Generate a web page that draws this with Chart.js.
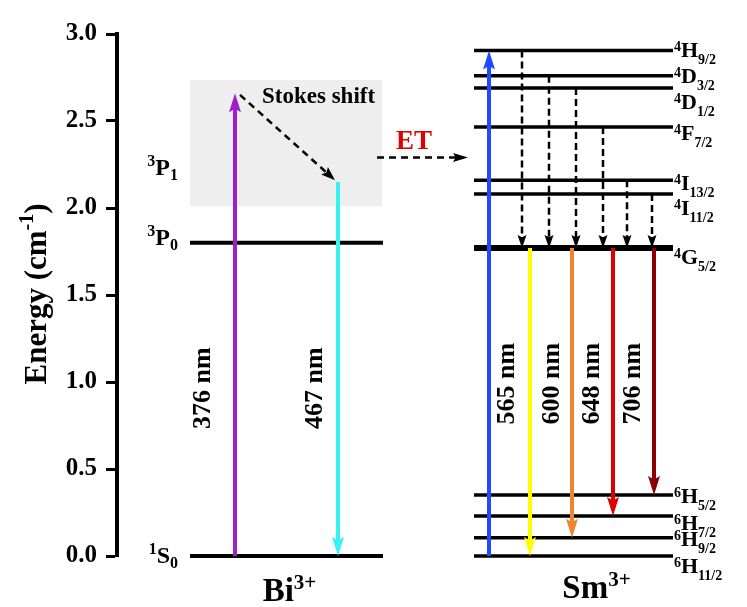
<!DOCTYPE html>
<html><head><meta charset="utf-8">
<script src="https://cdn.jsdelivr.net/npm/chart.js@4.4.1/dist/chart.umd.min.js"></script>
<style>html,body{margin:0;padding:0;background:#ffffff;}canvas{display:block;}</style>
</head><body>
<canvas id="c" width="747" height="607"></canvas>
<script>
// ---------------- data ----------------
const yTickValues = [0, 0.5, 1.0, 1.5, 2.0, 2.5, 3.0];
const yTickLabels = ['0.0', '0.5', '1.0', '1.5', '2.0', '2.5', '3.0'];

const biLevels = ['1S0', '3P0'];
const biEnergies = [0.0, 1.80];
const biBandName = '3P1';
const biBand = [2.01, 2.735];          // shaded 3P1 region (bottom, top)
const biExcitation = [0.0, 2.66];      // 376 nm absorption
const biStokes = [2.65, 2.16];         // relaxation (Stokes shift)
const biEmission = [2.15, 0.0];        // 467 nm emission
const biWavelengths = ['376 nm', '467 nm'];

const smLevels = ['6H11/2', '6H9/2', '6H7/2', '6H5/2', '4G5/2', '4I11/2', '4I13/2', '4F7/2', '4D1/2', '4D3/2', '4H9/2'];
const smEnergies = [0.0, 0.105, 0.23, 0.35, 1.77, 2.08, 2.16, 2.465, 2.69, 2.76, 2.905];
const smExciteTo = '4H9/2';
const smRelaxFrom = ['4H9/2', '4D3/2', '4D1/2', '4F7/2', '4I13/2', '4I11/2'];
const smEmitFrom = '4G5/2';
const smEmitTo = ['6H11/2', '6H9/2', '6H7/2', '6H5/2'];
const smWavelengths = ['565 nm', '600 nm', '648 nm', '706 nm'];
const etEnergy = 2.29;
const ionNames = ['Bi3+', 'Sm3+'];
const axisTitle = ['Energy (cm', '-1', ')'];

// ---------------- layout / style (x in plot units, 1 unit = 1 px) ----------------
const L = {
  biSpan: [73, 266], smSpan: [357, 556], band: [73, 265],
  biExciteX: 118, biEmitX: 221, stokesX: [123, 218],
  smExciteX: 372, smRelaxX: [405, 432, 459, 486, 510, 535], smEmitX: [413, 455, 496, 537],
  etX: [260, 351]
};
const biColors = ['#a020c8', '#38f2f2'];
const smExciteColor = '#1f4bff';
const emitColors = ['#ffff00', '#f0842e', '#dc0000', '#8b0000'];
const smLabelDy = [17, 8, 14, 8, 16, 21, 10, 13, 21, 7, 6];
const biLabelDy = [7, 2];
const wlDx = [-32, -23, 18, 22, 20, 20];

// ---------------- datasets ----------------
const Esm = n => smEnergies[smLevels.indexOf(n)];
const seg = (x0, y0, x1, y1) => [{x: x0, y: y0}, {x: x1, y: y1}];
const datasets = [];
datasets.push({data: seg(L.band[0], biBand[1], L.band[1], biBand[1]), borderWidth: 0, borderColor: 'rgba(0,0,0,0)', fill: '+1', backgroundColor: '#eeeeee', order: 30});
datasets.push({data: seg(L.band[0], biBand[0], L.band[1], biBand[0]), borderWidth: 0, borderColor: 'rgba(0,0,0,0)', fill: false, order: 30});
biEnergies.forEach(e => datasets.push({data: seg(L.biSpan[0], e, L.biSpan[1], e), borderColor: '#000', borderWidth: 4, order: 20}));
smEnergies.forEach((e, i) => datasets.push({data: seg(L.smSpan[0], e, L.smSpan[1], e), borderColor: '#000', borderWidth: smLevels[i] === smEmitFrom ? 6 : 3.5, order: 20}));
function arrow(pts, color, width, dash, head) {
  return {data: pts, borderColor: color, borderWidth: width, borderDash: dash || [], head: head, order: 1};
}
const solidHead = {len: 19, w: 12};
const dashHead = {len: 13, w: 9};
datasets.push(arrow(seg(L.biExciteX, biExcitation[0], L.biExciteX, biExcitation[1]), biColors[0], 4, null, solidHead));
datasets.push(arrow(seg(L.biEmitX, biEmission[0], L.biEmitX, biEmission[1]), biColors[1], 4, null, solidHead));
datasets.push(arrow(seg(L.stokesX[0], biStokes[0], L.stokesX[1], biStokes[1]), '#000', 2.5, [7, 5], {len: 14, w: 10}));
datasets.push(arrow(seg(L.etX[0], etEnergy, L.etX[1], etEnergy), '#000', 2.5, [7, 5], {len: 15, w: 9}));
datasets.push(arrow(seg(L.smExciteX, 0, L.smExciteX, Esm(smExciteTo)), smExciteColor, 4, null, solidHead));
smRelaxFrom.forEach((n, i) => datasets.push(arrow(seg(L.smRelaxX[i], Esm(n), L.smRelaxX[i], Esm(smEmitFrom)), '#000', 2.5, [7, 4], dashHead)));
smEmitTo.forEach((n, i) => datasets.push(arrow(seg(L.smEmitX[i], Esm(smEmitFrom), L.smEmitX[i], Esm(n)), emitColors[i], 4, null, solidHead)));
datasets.forEach(d => { d.clip = false; d.pointRadius = 0; });

// ---------------- plugins ----------------
const arrowPlugin = {
  id: 'arrowheads',
  beforeDatasetDraw(chart, args) {
    const ds = chart.data.datasets[args.index];
    if (!ds.head) return;
    const pts = args.meta.data, a = pts[pts.length - 2], b = pts[pts.length - 1];
    const dx = b.x - a.x, dy = b.y - a.y, d = Math.hypot(dx, dy), ux = dx / d, uy = dy / d, nx = -uy, ny = ux;
    const h = ds.borderWidth, back = ds.head.len * 0.7;
    const ctx = chart.ctx;
    ctx.save();
    ctx.beginPath();
    ctx.rect(0, 0, chart.width, chart.height);
    ctx.moveTo(b.x + nx * h + ux * 3, b.y + ny * h + uy * 3);
    ctx.lineTo(b.x - nx * h + ux * 3, b.y - ny * h + uy * 3);
    ctx.lineTo(b.x - nx * h - ux * back, b.y - ny * h - uy * back);
    ctx.lineTo(b.x + nx * h - ux * back, b.y + ny * h - uy * back);
    ctx.closePath();
    ctx.clip('evenodd');
  },
  afterDatasetDraw(chart, args) {
    const ds = chart.data.datasets[args.index];
    if (!ds.head) return;
    const ctx = chart.ctx;
    ctx.restore();
    const pts = args.meta.data, a = pts[pts.length - 2], b = pts[pts.length - 1];
    const dx = b.x - a.x, dy = b.y - a.y, d = Math.hypot(dx, dy), ux = dx / d, uy = dy / d, nx = -uy, ny = ux;
    const len = ds.head.len, w = ds.head.w / 2;
    const cx = b.x - ux * len, cy = b.y - uy * len;
    ctx.save();
    ctx.fillStyle = ds.borderColor;
    ctx.beginPath();
    ctx.moveTo(b.x, b.y);
    ctx.lineTo(cx + nx * w, cy + ny * w);
    ctx.lineTo(b.x - ux * len * 0.82, b.y - uy * len * 0.82);
    ctx.lineTo(cx - nx * w, cy - ny * w);
    ctx.closePath();
    ctx.fill();
    ctx.restore();
  }
};

const FONT = s => `bold ${s}px "Liberation Serif", "Times New Roman", serif`;
function drawRich(ctx, parts, x, y, align) {
  let total = 0;
  parts.forEach(p => { ctx.font = FONT(p.s); p.w = ctx.measureText(p.t).width; total += p.w; });
  let cx = align === 'right' ? x - total : align === 'center' ? x - total / 2 : x;
  ctx.textAlign = 'left';
  ctx.textBaseline = 'alphabetic';
  parts.forEach(p => { ctx.font = FONT(p.s); ctx.fillText(p.t, cx, y + (p.dy || 0)); cx += p.w; });
}
function termParts(name, big, small, rise, drop) {
  const m = name.match(/^(\d)([A-Za-z])(.*)$/);
  return [{t: m[1], s: small, dy: -rise}, {t: m[2], s: big}, {t: m[3], s: small, dy: drop}];
}
function ionParts(name, big, small, rise) {
  const m = name.match(/^([A-Za-z]+)(.*)$/);
  return [{t: m[1], s: big}, {t: m[2], s: small, dy: -rise}];
}

const textPlugin = {
  id: 'texts',
  afterDraw(chart) {
    const ctx = chart.ctx, xs = chart.scales.x, ys = chart.scales.y;
    const X = v => xs.getPixelForValue(v), Y = v => ys.getPixelForValue(v);
    ctx.save();
    ctx.fillStyle = '#000';
    // axis title (rotated)
    ctx.save();
    ctx.translate(36, (ys.top + ys.bottom) / 2 - 1);
    ctx.rotate(-Math.PI / 2);
    drawRich(ctx, [{t: axisTitle[0], s: 31}, {t: axisTitle[1], s: 20, dy: -13}, {t: axisTitle[2], s: 31}], 0, 10, 'center');
    ctx.restore();
    // Bi levels labels
    biLevels.forEach((n, i) => drawRich(ctx, termParts(n, 24, 16, 9, 5), X(L.biSpan[0]) - 12, Y(biEnergies[i]) + biLabelDy[i], 'right'));
    drawRich(ctx, termParts(biBandName, 24, 16, 9, 5), X(L.biSpan[0]) - 12, Y(biBand[0]) - 31, 'right');
    // Sm level labels
    smLevels.forEach((n, i) => drawRich(ctx, termParts(n, 22, 14, 6, 7), X(L.smSpan[1]) + 1, Y(smEnergies[i]) + smLabelDy[i], 'left'));
    // Stokes shift + ET
    drawRich(ctx, [{t: 'Stokes shift', s: 23}], X(L.biExciteX) + 27, Y(biBand[1]) + 23, 'left');
    ctx.fillStyle = '#e00000';
    drawRich(ctx, [{t: 'ET', s: 27}], X(L.etX[0]) + 19, Y(etEnergy) - 9, 'left');
    ctx.fillStyle = '#000';
    // wavelength labels (rotated)
    const wlX = [L.biExciteX, L.biEmitX, L.smExciteX, L.smEmitX[0], L.smEmitX[1], L.smEmitX[2]];
    const wlTexts = biWavelengths.concat(smWavelengths);
    wlTexts.forEach((t, i) => {
      ctx.save();
      ctx.translate(X(wlX[i]) + wlDx[i], Y(i < 2 ? 0.965 : 0.99));
      ctx.rotate(-Math.PI / 2);
      ctx.font = FONT(26);
      ctx.textAlign = 'center';
      ctx.textBaseline = 'middle';
      ctx.fillText(t, 0, 0);
      ctx.restore();
    });
    // ion names
    drawRich(ctx, ionParts(ionNames[0], 33, 21, 12), (X(L.biSpan[0]) + X(L.biSpan[1])) / 2 + 3, Y(0) + 45, 'center');
    drawRich(ctx, ionParts(ionNames[1], 33, 21, 12), (X(L.smSpan[0]) + X(L.smSpan[1])) / 2 + 23, Y(0) + 42, 'center');
    ctx.restore();
  }
};

new Chart(document.getElementById('c'), {
  type: 'line',
  data: {datasets},
  options: {
    responsive: false, animation: false, devicePixelRatio: 1, events: [],
    layout: {padding: {top: 34, bottom: 51, left: 0, right: 0}},
    plugins: {legend: {display: false}, tooltip: {enabled: false}},
    elements: {point: {radius: 0, hoverRadius: 0}, line: {tension: 0, borderCapStyle: 'butt', fill: false}},
    scales: {
      x: {type: 'linear', display: false, min: 0, max: 630},
      y: {
        type: 'linear', min: 0, max: 3,
        afterFit(s) { s.width = 117; },
        afterBuildTicks(s) { s.ticks = yTickValues.map(v => ({value: v})); },
        ticks: {callback: v => yTickLabels[yTickValues.indexOf(v)], font: {family: '"Liberation Serif"', size: 25, weight: 'bold'}, color: '#000', padding: 9},
        grid: {drawOnChartArea: false, drawTicks: true, tickLength: 11, tickWidth: 3, tickColor: '#000'},
        border: {display: true, color: '#000', width: 4}
      }
    }
  },
  plugins: [arrowPlugin, textPlugin]
});
</script>
</body></html>
